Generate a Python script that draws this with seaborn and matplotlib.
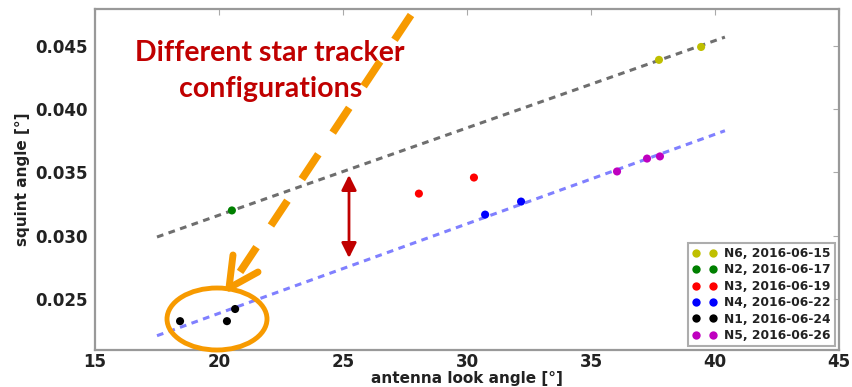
import numpy as np
import pandas as pd
import seaborn as sns
import matplotlib
matplotlib.use("Agg")
import matplotlib.pyplot as plt
from matplotlib.lines import Line2D
from matplotlib.patches import Ellipse

# ---------------- data ----------------
groups = ["N6, 2016-06-15", "N2, 2016-06-17", "N3, 2016-06-19",
          "N4, 2016-06-22", "N1, 2016-06-24", "N5, 2016-06-26"]
group_colors = ["#bfbf00", "#008000", "#ff0000", "#0000ff", "#000000", "#bf00bf"]

n6_x = [37.74, 39.44]; n6_y = [0.0439, 0.04492]
n2_x = [20.52];        n2_y = [0.0320]
n3_x = [28.06, 30.28]; n3_y = [0.03333, 0.0346]
n4_x = [30.73, 32.18]; n4_y = [0.03167, 0.0327]
n1_x = [18.43, 20.32, 20.65]; n1_y = [0.02325, 0.02325, 0.02421]
n5_x = [36.05, 37.26, 37.78]; n5_y = [0.03508, 0.0361, 0.03627]

fit_x = [17.5, 40.4]
upper_fit_y = [0.0299, 0.0457]
lower_fit_y = [0.0221, 0.0383]

x_ticks = [15, 20, 25, 30, 35, 40, 45]
y_ticks = [0.025, 0.030, 0.035, 0.040, 0.045]

xs = [n6_x, n2_x, n3_x, n4_x, n1_x, n5_x]
ys = [n6_y, n2_y, n3_y, n4_y, n1_y, n5_y]
df = pd.DataFrame({
    "look": np.concatenate(xs),
    "squint": np.concatenate(ys),
    "group": np.concatenate([[g] * len(x) for g, x in zip(groups, xs)]),
})

# ---------------- figure ----------------
sns.set_style("white")
plt.rcParams["font.family"] = ["DejaVu Sans"]
W, H = 852, 387
fig = plt.figure(figsize=(W / 100, H / 100), dpi=100)
ax = fig.add_axes([95 / W, 1 - 350 / H, (839 - 95) / W, (350 - 9) / H])

sns.lineplot(x=fit_x, y=upper_fit_y, ax=ax, color="#555555", alpha=0.85,
             lw=2.2, dashes=False, linestyle=(0, (2.2, 1.8)), legend=False)
sns.lineplot(x=fit_x, y=lower_fit_y, ax=ax, color="#6060ff", alpha=0.8,
             lw=2.2, dashes=False, linestyle=(0, (2.2, 1.8)), legend=False)

sns.scatterplot(data=df, x="look", y="squint", hue="group", hue_order=groups,
                palette=group_colors, s=34, linewidth=0, ax=ax, zorder=3)

ax.set_xlim(15, 45)
ax.set_ylim(0.02097, 0.04792)
ax.set_xticks(x_ticks)
ax.set_yticks(y_ticks)
ax.set_xticklabels([str(t) for t in x_ticks], fontsize=12, fontweight="bold", color="#222222")
ax.set_yticklabels([f"{t:.3f}" for t in y_ticks], fontsize=12, fontweight="bold", color="#222222")
ax.tick_params(direction="in", length=4, width=0.8, color="#aaaaaa",
               top=True, right=True)
ax.tick_params(axis="x", pad=2)
ax.tick_params(axis="y", pad=5)
for sp in ax.spines.values():
    sp.set_color("#999999")
    sp.set_linewidth(1.6)
ax.set_xlabel("antenna look angle [°]", fontsize=11, fontweight="bold", color="#222222", labelpad=0)
ax.set_ylabel("squint angle [°]", fontsize=11, fontweight="bold", color="#222222", labelpad=4)

# legend
handles = [Line2D([0], [0], marker="o", color="none", markerfacecolor=c,
                  markeredgewidth=0, markersize=6) for c in group_colors]
leg = ax.legend(handles, groups, loc="lower right", numpoints=2,
                prop={"size": 8.8, "weight": "bold"}, frameon=True, fancybox=False,
                labelspacing=0.28, handlelength=2.0, handletextpad=0.6,
                borderpad=0.35, borderaxespad=0.3)
leg.get_frame().set_edgecolor("#999999")
leg.get_frame().set_linewidth(1.5)
for t in leg.get_texts():
    t.set_color("#222222")

# ---------------- annotations (figure pixel coords) ----------------
def px(x, y):
    return (x / W, 1 - y / H)

dark_red = "#C00000"
orange = "#F79A00"

fig.text(*px(270, 53), "Different star tracker", color=dark_red, fontsize=20.5,
         fontweight="bold", family=["Lato", "DejaVu Sans"], ha="center", va="center",
         zorder=3)
fig.text(*px(271, 89), "configurations", color=dark_red, fontsize=20.5,
         fontweight="bold", family=["Lato", "DejaVu Sans"], ha="center", va="center",
         zorder=3)

# red double arrow
ax.annotate("", xy=px(349, 258), xytext=px(349, 175), xycoords="figure fraction",
            textcoords="figure fraction",
            arrowprops=dict(arrowstyle="<|-|>,head_length=0.9,head_width=0.45",
                            color=dark_red, lw=2, shrinkA=0, shrinkB=0))

# orange dashed arrow shaft (drawn above the text)
(x0, y0), (x1, y1) = px(411, 15), px(236, 278)
fig.add_artist(Line2D([x0, x1], [y0, y1], transform=fig.transFigure, color=orange,
                      lw=5.5, linestyle=(0, (3.9, 3.4)), solid_capstyle="butt",
                      dash_capstyle="butt", zorder=6))
# arrow head
tip = px(229, 288)
for arm in [(233, 255), (258, 272)]:
    a = px(*arm)
    fig.add_artist(Line2D([tip[0], a[0]], [tip[1], a[1]], transform=fig.transFigure,
                          color=orange, lw=5, solid_capstyle="round", zorder=6))

# orange ellipse
fig.add_artist(Ellipse(px(217, 319), 100 / W, 62 / H, transform=fig.transFigure,
                       fill=False, edgecolor=orange, lw=3.5, zorder=6))

fig.savefig("out.png", dpi=100)
